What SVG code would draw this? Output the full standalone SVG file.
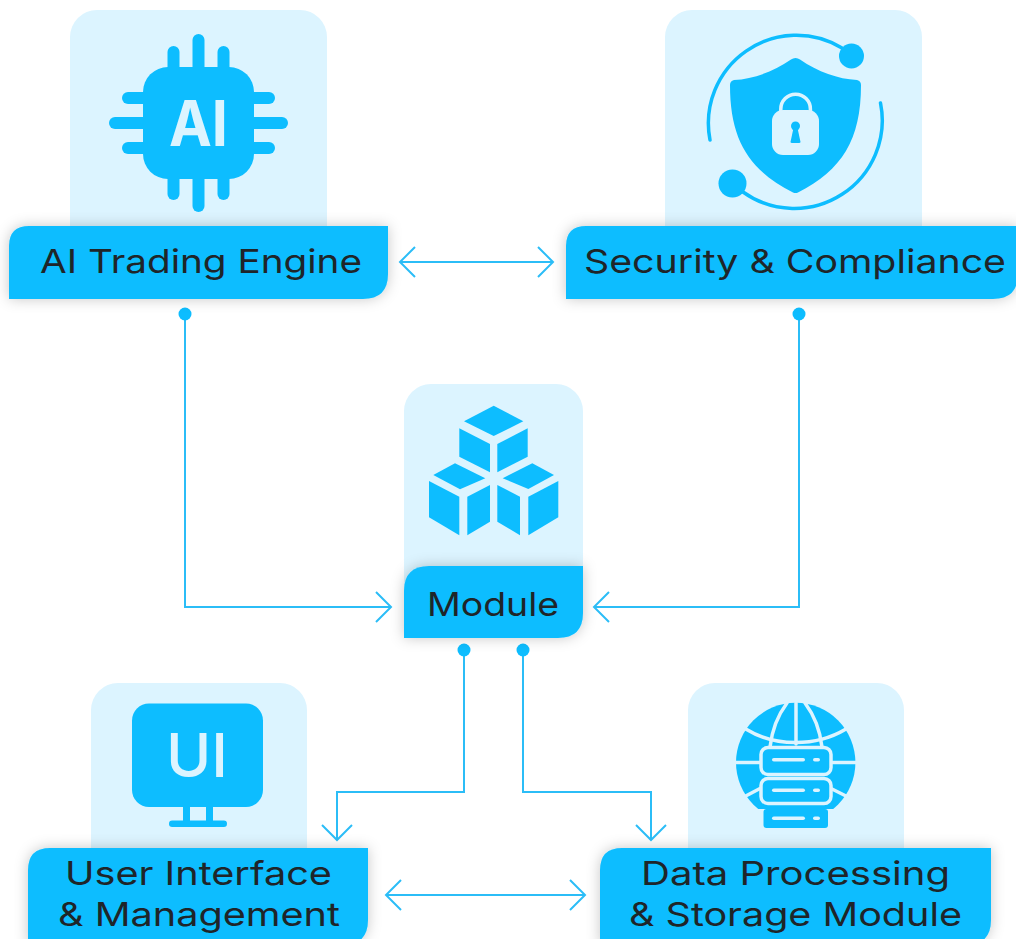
<svg xmlns="http://www.w3.org/2000/svg" width="1016" height="939" viewBox="0 0 1016 939">
<style>
.card{fill:#dcf4ff}
.label{fill:#0dbdff;filter:url(#sh)}
.ink{fill:#0dbdff}
.lite{fill:#dcf4ff}
.liteS{fill:none;stroke:#dcf4ff;stroke-width:3.5;stroke-linecap:round}
.t{font-family:"Inter","Liberation Sans",sans-serif;font-weight:400;fill:#1f2529;font-size:33px}
.conn{fill:none;stroke:#2bbdf7;stroke-width:2}
.dot{fill:#0dbdff}
.ic{font-family:"Inter","Liberation Sans",sans-serif;fill:#dcf4ff}
</style>
<defs>
<filter id="sh" x="-15%" y="-30%" width="130%" height="160%"><feDropShadow dx="0" dy="0" stdDeviation="7" flood-color="#000" flood-opacity="0.22"/></filter>
<marker id="a" markerUnits="userSpaceOnUse" markerWidth="36" markerHeight="36" refX="18" refY="18" orient="auto-start-reverse" viewBox="0 0 36 36"><path d="M3 3L18 18L3 33" fill="none" stroke="#2bbdf7" stroke-width="2"/></marker>
</defs>

<g id="connectors">
<path class="conn" d="M185 314V607H391" marker-end="url(#a)"/>
<path class="conn" d="M799 314V607H594" marker-end="url(#a)"/>
<path class="conn" d="M464 650V792H337V840" marker-end="url(#a)"/>
<path class="conn" d="M523 650V792H651V840" marker-end="url(#a)"/>
<path class="conn" d="M400 262H553" marker-start="url(#a)" marker-end="url(#a)"/>
<path class="conn" d="M386 895H585" marker-start="url(#a)" marker-end="url(#a)"/>
<circle class="dot" cx="185" cy="314" r="6.5"/>
<circle class="dot" cx="799" cy="314" r="6.5"/>
<circle class="dot" cx="464" cy="650" r="6.5"/>
<circle class="dot" cx="523" cy="650" r="6.5"/>
</g>

<g id="node-ai">
<rect class="card" x="70" y="10" width="257" height="270" rx="27"/>
<g class="ink">
<rect x="192.500" y="34" width="12" height="178" rx="6"/>
<rect x="167.500" y="46" width="12" height="154" rx="6"/>
<rect x="217.500" y="46" width="12" height="154" rx="6"/>
<rect x="109" y="117" width="179" height="12" rx="6"/>
<rect x="122" y="92" width="153" height="12" rx="6"/>
<rect x="122" y="142" width="153" height="12" rx="6"/>
<rect x="143" y="67" width="111" height="112" rx="25"/>
</g>
<text class="ic" x="169" y="146" font-size="63" font-weight="700" textLength="59" lengthAdjust="spacingAndGlyphs">AI</text>
<path class="label" d="M9 246Q9 226 29 226H388V274Q388 299 363 299H9Z"/>
<text class="t" x="40" y="273" textLength="322" lengthAdjust="spacingAndGlyphs">AI Trading Engine</text>
</g>

<g id="node-security">
<rect class="card" x="665" y="10" width="257" height="270" rx="27"/>
<path class="ink" d="M795.500 58Q798 58 800 59.500C818 72 838 79 857 80Q861 81 861 85C861 140 842 170 798 192.500Q795.500 193.500 793 192.500C749 170 730 140 730 85Q730 81 734 80C753 79 773 72 791 59.500Q793 58 795.500 58Z"/>
<path d="M780.800 112V109A14.800 14.800 0 0 1 810.400 109V112" fill="none" stroke="#dcf4ff" stroke-width="3.500"/>
<rect class="lite" x="772" y="110" width="47" height="45" rx="11"/>
<circle class="ink" cx="795.500" cy="126" r="4.500"/>
<path class="ink" d="M793.500 128H797.500L800.500 142Q800.500 143 799 143H792Q790.500 143 790.500 142Z"/>
<path d="M710 140A88 88 0 0 1 842 48" fill="none" stroke="#0dbdff" stroke-width="3.500" stroke-linecap="round"/>
<path d="M880.500 103A88 88 0 0 1 743 192" fill="none" stroke="#0dbdff" stroke-width="3.500" stroke-linecap="round"/>
<circle class="ink" cx="851.500" cy="56" r="12.500"/>
<circle class="ink" cx="732.500" cy="183.500" r="14"/>
<path class="label" d="M566 246Q566 226 586 226H1018V274Q1018 299 993 299H566Z"/>
<text class="t" x="584" y="273" textLength="422" lengthAdjust="spacingAndGlyphs">Security &amp; Compliance</text>
</g>

<g id="node-module">
<rect class="card" x="404" y="384" width="179" height="230" rx="27"/>
<g class="ink">
<polygon points="493.700,405.700 523.300,421.300 493.700,436 464,421.300"/>
<polygon points="459.300,428.300 490,444 490,472.300 459.300,456.700"/>
<polygon points="497.300,444 527.700,428.300 527.700,456.700 497.300,472.300"/>
<polygon points="433.300,475 455,463.300 485.300,478.300 460,489.300"/>
<polygon points="429,481 459.300,496.700 459.300,535.300 429,517.300"/>
<polygon points="467.300,496.700 490,485 490,521.700 467.300,535.300"/>
<polygon points="502.700,478.300 532.300,463.300 554,475 528.300,489"/>
<polygon points="497.300,485 520,496.700 520,535.300 497.300,521.700"/>
<polygon points="528.300,496.700 558.300,481 558.300,517.300 528.300,535.300"/>
</g>
<path class="label" d="M404 591Q404 566 429 566H583V613Q583 638 558 638H404Z"/>
<text class="t" x="427" y="616" textLength="132" lengthAdjust="spacingAndGlyphs">Module</text>
</g>

<g id="node-ui">
<rect class="card" x="91" y="683" width="216" height="210" rx="27"/>
<rect class="ink" x="132" y="703.500" width="131" height="103.500" rx="17"/>
<rect class="ink" x="183" y="805" width="7" height="17"/>
<rect class="ink" x="206" y="805" width="7" height="17"/>
<rect class="ink" x="169" y="820.500" width="58" height="6.500" rx="3.200"/>
<text class="ic" x="166" y="777" font-size="60" font-weight="500" textLength="62" lengthAdjust="spacingAndGlyphs">UI</text>
<path class="label" d="M28 870Q28 848 50 848H368V920Q368 945 343 945H28Z"/>
<text class="t" x="65" y="885" textLength="267" lengthAdjust="spacingAndGlyphs">User Interface</text>
<text class="t" x="58" y="926" textLength="282" lengthAdjust="spacingAndGlyphs">&amp; Management</text>
</g>

<g id="node-data">
<rect class="card" x="688" y="683" width="216" height="210" rx="27"/>
<circle class="ink" cx="795.700" cy="762.500" r="59.700"/>
<rect class="lite" x="735" y="809" width="122" height="16"/>
<g class="liteS">
<path d="M736 762.500H856"/>
<path d="M745.700 729C775 747 816 747 846 729"/>
<path d="M770 747C772 730 778 715 787 703"/>
<path d="M822 747C820 730 814 715 805 703"/>
<path d="M796 703V744"/>
<path d="M745.700 796L760 788.500"/>
<path d="M846 796L831 788.500"/>
</g>
<g fill="#0dbdff" stroke="#dcf4ff" stroke-width="3.500">
<rect x="761" y="747.500" width="70" height="27" rx="7"/>
<rect x="761" y="778.500" width="70" height="25" rx="7"/>
</g>
<rect class="ink" x="763.500" y="809" width="64.500" height="19" rx="3"/>
<g class="lite">
<rect x="772" y="758" width="33" height="3.600" rx="1.800"/><rect x="813" y="758" width="7" height="3.600" rx="1.800"/>
<rect x="772" y="788.500" width="33" height="3.600" rx="1.800"/><rect x="813" y="788.500" width="7" height="3.600" rx="1.800"/>
<rect x="772" y="816.500" width="33" height="3.600" rx="1.800"/><rect x="813" y="816.500" width="7" height="3.600" rx="1.800"/>
</g>
<path class="label" d="M600 870Q600 848 622 848H991V920Q991 945 966 945H600Z"/>
<text class="t" x="641" y="885" textLength="309" lengthAdjust="spacingAndGlyphs">Data Processing</text>
<text class="t" x="629" y="926" textLength="333" lengthAdjust="spacingAndGlyphs">&amp; Storage Module</text>
</g>
</svg>
